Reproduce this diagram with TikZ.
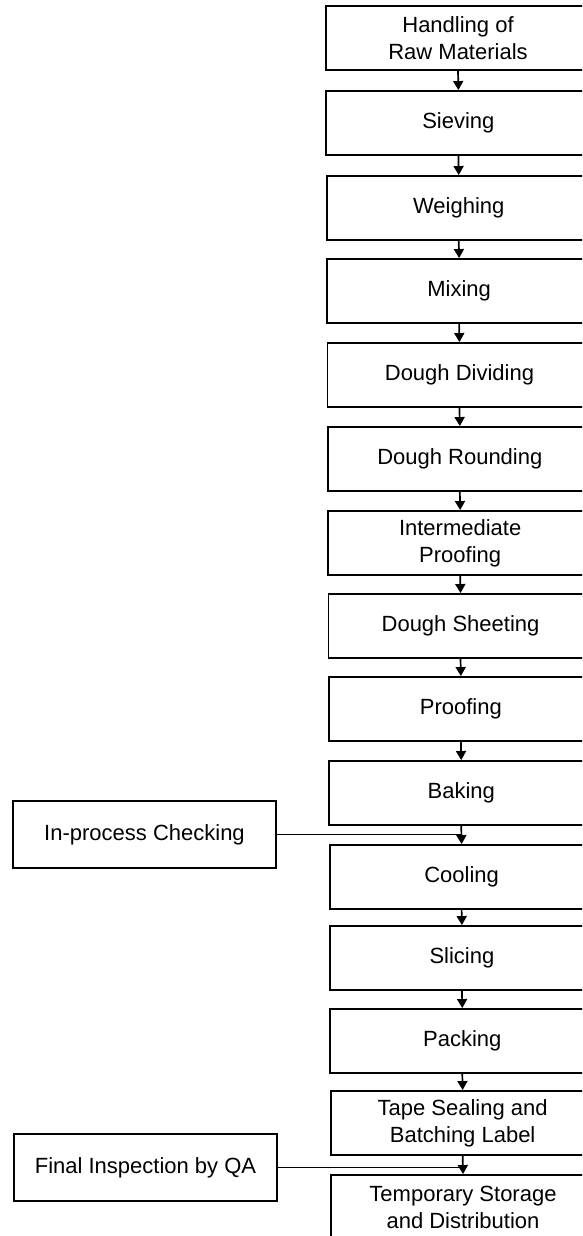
\documentclass[tikz,border=0pt]{standalone}
\usepackage{fontspec}
\setmainfont{Liberation Sans}
\usetikzlibrary{arrows.meta}
\begin{document}
\begin{tikzpicture}[x=1pt,y=-1pt,
  stepbox/.style={draw, line width=1.9pt, minimum width=264pt, minimum height=64pt,
    inner sep=0pt, align=center, font=\fontsize{22}{27}\selectfont},
  checkbox/.style={draw, line width=1.9pt, minimum width=263pt, minimum height=67pt,
    inner sep=0pt, align=center, font=\fontsize{22}{27}\selectfont},
  flow/.style={line width=1.7pt, -{Triangle[width=10pt,length=9pt]}},
  link/.style={line width=1.7pt}]
\useasboundingbox (0,0) rectangle (582,1236);
\clip (0,0) rectangle (582,1236);

% process steps, top edge given for each box
\foreach \n/\t/\txt in {
  1/6/{Handling of\\Raw Materials},
  2/91/{Sieving},
  3/176/{Weighing},
  4/259/{Mixing},
  5/343/{Dough Dividing},
  6/427/{Dough Rounding},
  7/511/{Intermediate\\Proofing},
  8/594/{Dough Sheeting},
  9/677/{Proofing},
  10/761/{Baking},
  11/845/{Cooling},
  12/926/{Slicing},
  13/1009/{Packing},
  14/1091/{Tape Sealing and\\Batching Label},
  15/1175/{Temporary Storage\\and Distribution}} {
  \pgfmathsetmacro\cx{458+5*\t/1175}
  \node[stepbox] (s\n) at (\cx, \t+32) {\txt};
}

% arrows between consecutive steps
\foreach \i [evaluate=\i as \j using int(\i+1)] in {1,...,14} {
  \draw[flow] (s\i.south) -- (s\j.north);
}

% quality checks feeding into the flow
\node[checkbox] (ipc) at (144.5, 834.5) {In-process Checking};
\node[checkbox] (fiq) at (145.5, 1167.5) {Final Inspection by QA};
\draw[link] (ipc.east) -- (ipc.east -| s10.south);
\draw[link] (fiq.east) -- (fiq.east -| s14.south);
\end{tikzpicture}
\end{document}
